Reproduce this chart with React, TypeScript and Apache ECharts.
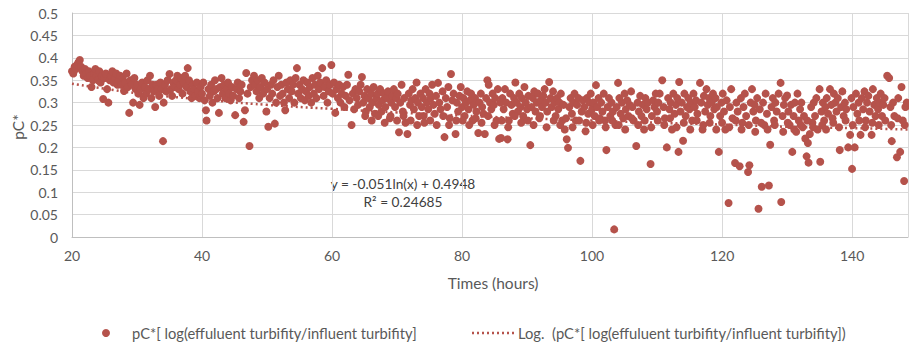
import React, { useEffect, useRef } from "react";
import * as echarts from "echarts";

const xTicks = [20, 40, 60, 80, 100, 120, 140];
const yMin = 0;
const yMax = 0.5;
const yStep = 0.05;
const xMin = 20;
const xMax = 148.6;

const yTitle = "pC*";
const xTitle = "Times (hours)";
const seriesName = "pC*[ log(effuluent turbifity/influent turbifity]";
const trendName = "Log.  (pC*[ log(effuluent turbifity/influent turbifity])";
const equationText = "y = -0.051ln(x) + 0.4948";
const r2Text = "R² = 0.24685";

// trend line points
const trendPoints: [number, number][] = [
  [20, 0.342], [25, 0.331], [30, 0.321], [40, 0.307], [50, 0.295], [60, 0.286],
  [70, 0.278], [80, 0.271], [90, 0.265], [100, 0.26], [110, 0.255], [120, 0.251],
  [130, 0.246], [140, 0.243], [148.6, 0.24],
];

const points20: [number, number][] = [
  [20.0,0.37],[20.2,0.365],[20.4,0.38],[20.6,0.375],[20.8,0.385],[21.0,0.39],[21.2,0.395],[21.4,0.38],[21.6,0.37],[21.8,0.36],
  [22.0,0.375],[22.2,0.365],[22.4,0.355],[22.6,0.37],[22.8,0.36],[23.0,0.335],[23.2,0.35],[23.4,0.365],[23.6,0.375],[23.8,0.36],
  [24.0,0.35],[24.2,0.37],[24.4,0.345],[24.6,0.36],[24.8,0.308],[25.0,0.355],[25.2,0.365],[25.4,0.33],[25.6,0.3],[25.8,0.35],
  [26.0,0.36],[26.2,0.37],[26.4,0.345],[26.6,0.355],[26.8,0.365],[27.0,0.34],[27.2,0.35],[27.4,0.36],[27.6,0.34],[27.8,0.355],
  [28.0,0.326],[28.2,0.345],[28.4,0.365],[28.6,0.335],[28.8,0.277],[29.0,0.35],[29.2,0.34],[29.4,0.3],[29.6,0.355],[29.8,0.33],
  [30.0,0.34],[30.2,0.32],[30.4,0.295],[30.6,0.33],[30.8,0.345],[31.0,0.31],[31.2,0.335],[31.4,0.32],[31.6,0.35],[31.8,0.33],
  [32.0,0.36],[32.2,0.31],[32.4,0.34],[32.6,0.325],[32.8,0.29],[33.0,0.34],[33.2,0.33],[33.4,0.315],[33.6,0.345],[33.8,0.33],
  [34.0,0.214],[34.1,0.3],[34.3,0.34],[34.5,0.325],[34.7,0.35],[35.0,0.364],[35.2,0.33],[35.4,0.315],[35.6,0.345],[35.8,0.335],
  [36.0,0.35],[36.2,0.36],[36.4,0.33],[36.6,0.34],[36.8,0.355],[37.0,0.32],[37.2,0.345],[37.4,0.36],[37.6,0.335],[37.8,0.377],
  [38.0,0.35],[38.2,0.325],[38.4,0.31],[38.6,0.34],[38.8,0.33],[39.0,0.315],[39.2,0.345],[39.4,0.325],[39.6,0.31],[39.8,0.335],
];

const points40: [number, number][] = [
  [40.0,0.32],[40.2,0.345],[40.4,0.305],[40.6,0.283],[40.7,0.26],[41.0,0.33],[41.2,0.315],[41.4,0.34],[41.6,0.3],[41.8,0.325],
  [42.0,0.35],[42.2,0.33],[42.4,0.31],[42.6,0.277],[42.8,0.335],[43.0,0.355],[43.2,0.32],[43.4,0.34],[43.6,0.31],[43.8,0.33],
  [44.0,0.345],[44.2,0.32],[44.4,0.305],[44.6,0.335],[44.8,0.315],[45.1,0.272],[45.3,0.33],[45.5,0.345],[45.7,0.31],[45.9,0.325],
  [46.1,0.34],[46.4,0.257],[46.6,0.283],[46.8,0.366],[47.0,0.32],[47.3,0.203],[47.5,0.335],[47.7,0.35],
  [48.0,0.36],[48.2,0.34],[48.4,0.325],[48.6,0.35],[48.8,0.31],[49.0,0.335],[49.2,0.355],[49.4,0.32],[49.6,0.345],[49.9,0.28],
  [50.0,0.33],[50.2,0.246],[50.4,0.31],[50.6,0.34],[50.8,0.32],[51.0,0.35],[51.2,0.253],[51.4,0.3],[51.6,0.335],[51.8,0.36],
  [52.0,0.315],[52.2,0.34],[52.4,0.32],[52.6,0.3],[52.8,0.283],[53.0,0.345],
  [53.2,0.33],[53.4,0.31],[53.6,0.35],[53.8,0.325],[54.0,0.34],[54.2,0.3],[54.4,0.355],[54.6,0.377],[54.8,0.32],[55.0,0.34],
  [55.2,0.31],[55.4,0.33],[55.6,0.35],[55.8,0.305],[56.0,0.325],[56.2,0.345],[56.4,0.315],[56.6,0.335],[56.8,0.3],[57.0,0.355],
  [57.2,0.32],[57.4,0.34],[57.6,0.31],[57.8,0.36],[58.0,0.33],[58.2,0.345],[58.5,0.377],[58.7,0.315],[58.9,0.335],[59.1,0.35],
  [59.3,0.3],[59.5,0.325],[59.7,0.34],[59.9,0.384],
];

const points60: [number, number][] = [
  [60.1,0.32],[60.3,0.345],[60.5,0.277],[60.7,0.33],[60.9,0.31],[61.1,0.34],[61.3,0.3],[61.5,0.32],[61.7,0.335],[61.9,0.29],
  [62.1,0.315],[62.3,0.34],[62.5,0.362],[62.7,0.305],[63.0,0.25],[63.2,0.32],[63.4,0.285],[63.6,0.33],[63.8,0.31],[64.0,0.295],
  [64.2,0.325],[64.4,0.34],[64.6,0.357],[64.8,0.3],[65.0,0.315],[65.2,0.28],[65.4,0.33],[65.6,0.31],[65.8,0.29],[66.0,0.32],
  [66.2,0.3],[66.4,0.335],[66.6,0.275],[66.8,0.31],[67.0,0.32],[67.2,0.295],[67.4,0.33],[67.6,0.28],[67.8,0.305],[68.0,0.32],
  [68.2,0.29],[68.4,0.31],[68.6,0.325],[68.9,0.265],[69.1,0.3],[69.3,0.315],
  [69.5,0.33],[69.7,0.29],[69.9,0.31],[70.1,0.32],[70.3,0.234],[70.5,0.3],[70.7,0.34],[70.9,0.28],[71.1,0.31],[71.3,0.255],
  [71.6,0.23],[71.8,0.32],[72.0,0.295],[72.2,0.305],[72.4,0.33],[72.6,0.285],[72.8,0.31],[73.0,0.345],[73.2,0.3],[73.4,0.27],
  [73.6,0.32],[73.8,0.29],[74.0,0.31],[74.2,0.255],[74.4,0.33],[74.6,0.3],[74.8,0.285],[75.0,0.32],[75.2,0.31],[75.4,0.34],
  [75.6,0.295],[75.8,0.275],[76.0,0.315],[76.3,0.344],[76.5,0.3],[76.7,0.285],[77.0,0.325],[77.3,0.223],[77.5,0.31],[77.7,0.29],
  [77.9,0.335],[78.1,0.265],[78.3,0.364],[78.5,0.305],[78.7,0.32],[79.0,0.23],[79.2,0.3],[79.4,0.28],[79.6,0.315],[79.8,0.335],
  [65.1,0.27],[66.1,0.26],[67.1,0.27],[68.1,0.255],[69.0,0.27],[70.0,0.26],[71.0,0.27],[72.1,0.26],[73.1,0.25],[74.1,0.27],
  [75.1,0.26],[76.1,0.25],[77.1,0.27],[78.0,0.25],[79.1,0.26],
];

const points80: [number, number][] = [
  [80.0,0.29],[80.2,0.31],[80.4,0.27],[80.6,0.3],[80.8,0.325],[81.0,0.285],[81.2,0.305],[81.4,0.32],[81.6,0.26],[81.8,0.295],
  [82.0,0.31],[82.2,0.28],[82.5,0.232],[82.7,0.3],[82.9,0.32],[83.1,0.29],[83.3,0.275],[83.5,0.23],[83.7,0.31],[83.9,0.35],
  [84.1,0.34],[84.3,0.3],[84.5,0.285],[84.7,0.32],[84.9,0.295],[85.1,0.31],[85.3,0.26],[85.5,0.33],[85.7,0.219],[85.9,0.3],
  [86.0,0.221],[86.2,0.31],[86.4,0.285],[86.6,0.33],[86.8,0.3],[87.0,0.218],[87.2,0.26],[87.4,0.32],[87.6,0.295],[87.8,0.275],
  [88.0,0.31],[88.2,0.345],[88.4,0.3],[88.6,0.28],[88.8,0.32],[89.0,0.29],[89.2,0.31],[89.4,0.27],[89.6,0.335],[89.8,0.3],
  [90.0,0.285],[90.2,0.315],[90.5,0.205],[90.7,0.29],[90.9,0.31],[91.1,0.325],[91.3,0.28],[91.5,0.3],[91.7,0.32],[91.9,0.265],
  [92.1,0.305],[92.3,0.29],[92.5,0.315],[92.7,0.33],[92.9,0.3],[93.1,0.28],[93.4,0.346],[93.6,0.31],[93.8,0.29],[94.0,0.325],
  [94.2,0.3],[94.4,0.27],[94.6,0.31],[94.8,0.285],[95.0,0.3],[95.2,0.32],[95.4,0.26],[95.6,0.295],[95.8,0.24],[96.1,0.218],
  [96.3,0.199],[96.5,0.29],[96.7,0.31],[96.9,0.275],[97.1,0.3],[97.3,0.32],[97.5,0.26],[97.7,0.295],[97.9,0.31],[98.2,0.17],
  [98.4,0.28],[98.6,0.305],[98.8,0.29],[99.0,0.236],[99.2,0.31],[99.4,0.275],[99.6,0.3],[99.8,0.32],
  [80.1,0.26],[81.1,0.25],[82.1,0.265],[83.0,0.255],[84.0,0.27],[85.0,0.25],[86.1,0.26],[87.1,0.245],[88.1,0.27],[89.1,0.255],
  [90.1,0.26],[91.0,0.25],[92.0,0.27],[93.0,0.245],[94.1,0.26],[95.1,0.25],[96.0,0.265],[97.0,0.245],[98.0,0.26],[99.1,0.255],
];

const points100: [number, number][] = [
  [100.0,0.285],[100.2,0.3],[100.4,0.27],[100.6,0.339],[100.8,0.29],[101.0,0.31],[101.2,0.265],[101.4,0.3],[101.6,0.28],[101.8,0.32],
  [102.0,0.26],[102.2,0.194],[102.4,0.29],[102.6,0.31],[102.8,0.27],[103.0,0.3],[103.2,0.28],[103.4,0.017],[103.6,0.25],[103.8,0.29],
  [104.0,0.344],[104.2,0.31],[104.4,0.275],[104.6,0.3],[104.8,0.265],[105.0,0.32],[105.2,0.285],[105.4,0.305],[105.6,0.27],[105.8,0.295],
  [106.0,0.325],[106.2,0.29],[106.4,0.26],[106.8,0.203],[107.0,0.3],[107.2,0.28],[107.4,0.315],[107.6,0.27],[107.8,0.295],[108.0,0.24],
  [108.2,0.31],[108.4,0.285],[108.6,0.3],[109.0,0.163],[109.2,0.27],[109.4,0.305],[109.6,0.29],[109.8,0.32],
  [110.0,0.28],[110.2,0.3],[110.4,0.32],[110.8,0.35],[111.0,0.29],[111.2,0.265],[111.5,0.2],[111.7,0.31],[111.9,0.285],[112.1,0.3],
  [112.3,0.24],[112.5,0.32],[112.7,0.275],[112.9,0.295],[113.1,0.31],[113.3,0.19],[113.4,0.346],[113.6,0.28],[113.8,0.3],[114.0,0.215],
  [114.2,0.32],[114.4,0.27],[114.6,0.29],[114.8,0.31],[115.0,0.285],[115.2,0.3],[115.4,0.26],[115.6,0.32],[115.8,0.29],[116.0,0.305],
  [116.2,0.275],[116.6,0.344],[116.8,0.3],[117.0,0.24],[117.2,0.315],[117.4,0.28],[117.6,0.33],[117.8,0.295],[118.0,0.31],[118.2,0.27],
  [118.4,0.3],[118.6,0.32],[118.8,0.285],[119.0,0.31],[119.2,0.29],[119.5,0.19],[119.7,0.27],[119.9,0.3],
  [100.1,0.25],[101.1,0.26],[102.1,0.245],[103.1,0.26],[104.1,0.25],[105.1,0.24],[106.1,0.265],[107.1,0.25],[108.1,0.26],[109.1,0.245],
  [110.1,0.26],[111.1,0.25],[112.0,0.265],[113.0,0.245],[114.1,0.255],[115.1,0.24],[116.1,0.26],[117.1,0.25],[118.1,0.255],[119.1,0.24],
];

const points120: [number, number][] = [
  [120.1,0.32],[120.3,0.28],[120.5,0.24],[120.7,0.305],[121.0,0.076],[121.2,0.29],[121.4,0.33],[121.6,0.265],[122.0,0.165],[122.2,0.3],
  [122.4,0.28],[122.7,0.158],[122.9,0.31],[123.1,0.255],[123.3,0.29],[123.5,0.32],[123.7,0.27],[124.0,0.145],[124.2,0.16],[124.4,0.3],
  [124.6,0.33],[124.8,0.28],[125.0,0.295],[125.2,0.26],[125.4,0.31],[125.6,0.063],[125.8,0.285],[126.1,0.112],[126.3,0.3],[126.5,0.25],
  [126.7,0.32],[126.9,0.275],[127.2,0.115],[127.4,0.206],[127.6,0.29],[127.8,0.31],[128.0,0.26],[128.2,0.3],[128.4,0.28],[128.7,0.32],
  [129.0,0.344],[129.1,0.078],[129.3,0.27],[129.5,0.295],[129.7,0.31],[130.0,0.316],[130.2,0.28],[130.4,0.25],[130.6,0.295],[130.8,0.19],
  [131.0,0.27],[131.2,0.3],[131.4,0.235],[131.6,0.32],[131.8,0.26],[132.0,0.285],[132.2,0.3],[132.4,0.245],[132.6,0.27],[132.8,0.22],
  [133.0,0.18],[133.2,0.21],[133.3,0.166],[133.5,0.23],[133.7,0.29],[133.9,0.255],[134.1,0.3],[134.3,0.27],[134.5,0.31],[134.7,0.24],
  [135.0,0.33],[135.1,0.168],[135.3,0.28],[135.5,0.3],[135.7,0.26],[135.9,0.29],[136.1,0.31],[136.3,0.275],[136.6,0.33],[136.8,0.295],
  [137.0,0.265],[137.2,0.32],[137.4,0.3],[137.6,0.28],[137.8,0.31],[138.1,0.194],[138.3,0.29],[138.5,0.325],[138.7,0.27],[138.9,0.3],
  [139.1,0.285],[139.4,0.2],[139.7,0.228],[139.9,0.31],
  [120.0,0.255],[121.1,0.245],[122.1,0.26],[123.0,0.24],[124.1,0.25],[125.1,0.235],[126.0,0.255],[127.0,0.24],[128.1,0.25],[129.4,0.235],
  [130.1,0.255],[131.1,0.24],[132.1,0.25],[133.1,0.26],[134.0,0.245],[135.4,0.25],[136.0,0.24],[137.1,0.255],[138.0,0.245],[139.0,0.26],
];

const points140: [number, number][] = [
  [140.0,0.152],[140.2,0.29],[140.4,0.2],[140.6,0.32],[140.8,0.275],[141.0,0.3],[141.3,0.228],[141.5,0.31],[141.7,0.285],[141.9,0.325],
  [142.1,0.26],[142.3,0.3],[142.5,0.315],[142.7,0.28],[143.0,0.228],[143.2,0.33],[143.4,0.295],[143.6,0.27],[143.8,0.31],[144.0,0.285],
  [144.2,0.3],[144.4,0.32],[144.6,0.27],[144.8,0.295],[145.0,0.31],[145.4,0.36],[145.7,0.355],[145.9,0.29],[146.1,0.214],[146.3,0.3],
  [146.5,0.27],[146.9,0.178],[147.1,0.31],[147.4,0.19],[147.6,0.335],[147.8,0.26],[148.0,0.125],[148.2,0.29],[148.4,0.3],
  [140.1,0.25],[141.1,0.26],[142.0,0.245],[143.1,0.255],[144.1,0.25],[145.1,0.26],[146.0,0.25],[147.0,0.265],[148.1,0.25],
];

const allPoints = [...points20, ...points40, ...points60, ...points80, ...points100, ...points120, ...points140];

const FONT = "Lato, 'Open Sans', sans-serif";
const TEXT_COLOR = "#595959";
const DOT_COLOR = "#b5524b";

export default function App() {
  const ref = useRef<HTMLDivElement>(null);
  useEffect(() => {
    document.body.style.margin = "0";
    if (!ref.current) return;
    const chart = echarts.init(ref.current, undefined, { renderer: "svg" });
    chart.setOption({
      animation: false,
      backgroundColor: "#ffffff",
      grid: { left: 72, right: 1, top: 13, bottom: 110, containLabel: false, outerBoundsMode: "none" },
      xAxis: {
        type: "value",
        min: xMin,
        max: xMax,
        interval: 20,
        axisLine: { show: true, lineStyle: { color: "#bfbfbf", width: 1 } },
        axisTick: { show: false },
        axisLabel: {
          fontFamily: FONT, fontSize: 14, color: TEXT_COLOR, margin: 11,
          showMaxLabel: false,
          formatter: (v: number) => (xTicks.includes(v) ? String(v) : ""),
        },
        splitLine: { show: true, lineStyle: { color: "#d9d9d9", width: 1 } },
      },
      yAxis: {
        type: "value",
        min: yMin,
        max: yMax,
        interval: yStep,
        axisLine: { show: true, lineStyle: { color: "#bfbfbf", width: 1 } },
        axisTick: { show: false },
        axisLabel: {
          fontFamily: FONT, fontSize: 14, color: TEXT_COLOR, margin: 14,
          formatter: (v: number) => String(Math.round(v * 100) / 100),
        },
        splitLine: { show: true, lineStyle: { color: "#d9d9d9", width: 1 } },
      },
      series: [
        {
          name: seriesName,
          type: "scatter",
          data: allPoints,
          symbol: "circle",
          symbolSize: 8,
          itemStyle: { color: DOT_COLOR, opacity: 1 },
          z: 2,
        },
        {
          name: trendName,
          type: "line",
          data: trendPoints,
          smooth: true,
          showSymbol: false,
          symbol: "none",
          lineStyle: { color: DOT_COLOR, width: 2.5, type: [2, 3] },
          z: 3,
        },
      ],
      graphic: [
        { type: "text", x: 18, y: 127, rotation: Math.PI / 2, style: { text: yTitle, fontFamily: FONT, fontSize: 15.5, fill: TEXT_COLOR, align: "center", verticalAlign: "middle" } },
        { type: "text", x: 493, y: 283, style: { text: xTitle, fontFamily: FONT, fontSize: 15.5, fill: TEXT_COLOR, align: "center", verticalAlign: "middle" } },
        { type: "text", x: 403, y: 183, style: { text: equationText, fontFamily: FONT, fontSize: 13.7, fill: "#404040", align: "center", verticalAlign: "middle" } },
        { type: "text", x: 403, y: 201, style: { text: r2Text, fontFamily: FONT, fontSize: 13.7, fill: "#404040", align: "center", verticalAlign: "middle" } },
        { type: "circle", shape: { cx: 106, cy: 333, r: 4 }, style: { fill: DOT_COLOR } },
        { type: "text", x: 132, y: 333, style: { text: seriesName, fontFamily: FONT, fontSize: 14.7, fill: TEXT_COLOR, align: "left", verticalAlign: "middle" } },
        { type: "line", shape: { x1: 472, y1: 333, x2: 514, y2: 333 }, style: { stroke: DOT_COLOR, lineWidth: 2.5, lineDash: [2, 3] } },
        { type: "text", x: 518, y: 333, style: { text: trendName, fontFamily: FONT, fontSize: 14.75, fill: TEXT_COLOR, align: "left", verticalAlign: "middle" } },
      ],
    });
    return () => chart.dispose();
  }, []);
  return <div ref={ref} style={{ width: 909, height: 347 }} />;
}
